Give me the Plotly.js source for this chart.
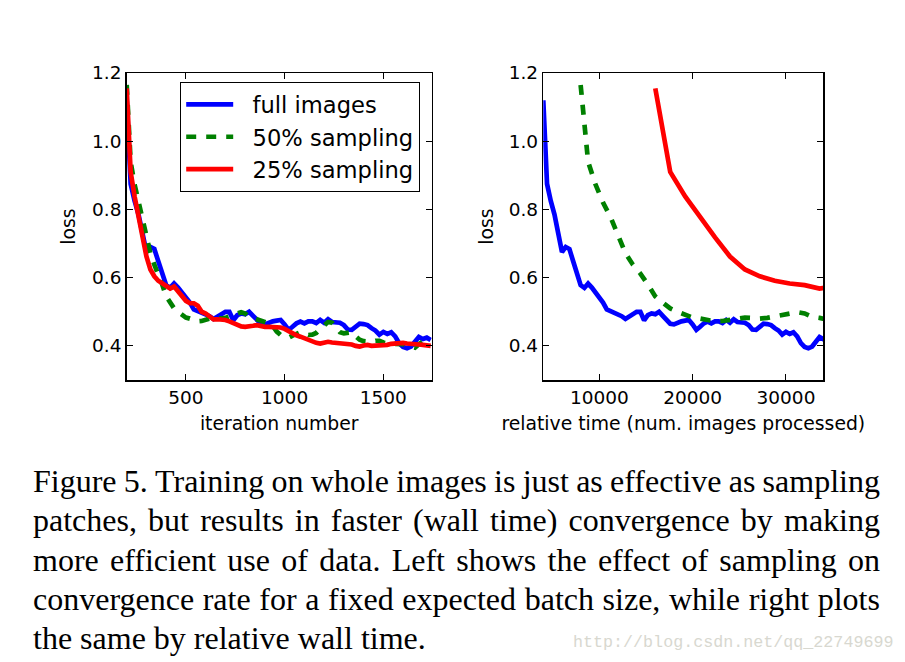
<!DOCTYPE html>
<html>
<head>
<meta charset="utf-8">
<script src="https://cdn.plot.ly/plotly-3.0.1.min.js"></script>
<style>
  html, body { margin: 0; padding: 0; background: #fff; }
  #wrap { position: relative; width: 905px; height: 662px; overflow: hidden; background: #fff; }
  #chart { position: absolute; left: 0; top: 0; width: 905px; height: 662px; }
  #caption { position: absolute; left: 33px; top: 462px; width: 847px;
             font-family: "Liberation Serif", "Times New Roman", serif; font-size: 32px; color: #000; }
  #caption .ln { display: flex; justify-content: space-between; height: 39.3px; line-height: 39.3px; white-space: nowrap; }
  #caption .ln.last { display: block; }
  #watermark { position: absolute; left: 573px; top: 633px; font-family: "Liberation Mono", "DejaVu Sans Mono", monospace;
               font-size: 16.7px; color: #d8d8d0; white-space: nowrap; }
</style>
</head>
<body>
<div id="wrap">
  <div id="chart"></div>
  <div id="caption"></div>
  <div id="watermark"></div>
</div>
<script>
// ---------------- data ----------------
const iterations = [200,220,240,260,280,300,320,340,360,380,
  400,420,440,460,480,500,520,540,560,580,
  600,620,640,660,680,700,720,740,760,780,
  800,820,840,860,880,900,920,940,960,980,
  1000,1020,1040,1060,1080,1100,1120,1140,1160,1180,
  1200,1220,1240,1260,1280,1300,1320,1340,1360,1380,
  1400,1420,1440,1460,1480,1500,1520,1540,1560,1580,
  1600,1620,1640,1660,1680,1700,1720,1740];

const lossFullImages = [1.12,0.875,0.825,0.785,0.73,0.675,0.69,0.684,0.648,0.612,
  0.578,0.570,0.583,0.571,0.557,0.546,0.527,0.507,0.502,0.496,
  0.493,0.487,0.479,0.485,0.492,0.500,0.500,0.475,0.490,0.495,
  0.493,0.500,0.488,0.477,0.465,0.463,0.468,0.472,0.474,0.476,
  0.463,0.447,0.456,0.466,0.471,0.466,0.472,0.472,0.467,0.476,
  0.468,0.478,0.470,0.468,0.468,0.461,0.448,0.447,0.458,0.465,
  0.464,0.461,0.452,0.445,0.433,0.441,0.435,0.440,0.428,0.408,
  0.397,0.393,0.398,0.415,0.426,0.420,0.424,0.417];

const loss50Sampling = [1.165,0.94,0.873,0.82,0.778,0.722,0.672,0.638,0.612,0.580,
  0.545,0.527,0.510,0.500,0.490,0.483,0.480,0.476,0.472,0.473,
  0.476,0.479,0.483,0.482,0.480,0.482,0.486,0.488,0.493,0.499,
  0.495,0.485,0.482,0.478,0.472,0.468,0.466,0.458,0.442,0.432,
  0.427,0.424,0.430,0.437,0.440,0.437,0.432,0.433,0.438,0.450,
  0.462,0.470,0.468,0.452,0.440,0.437,0.440,0.440,0.428,0.418,
  0.414,0.412,0.412,0.415,0.415,0.410,0.406,0.404,0.406,0.407,
  0.405,0.400,0.397,0.395,0.405,0.413,0.420,0.413];

const loss25Sampling = [1.155,0.91,0.838,0.776,0.718,0.662,0.624,0.604,0.591,0.583,
  0.578,0.568,0.574,0.560,0.544,0.532,0.525,0.525,0.518,0.500,
  0.495,0.488,0.478,0.478,0.478,0.476,0.472,0.467,0.462,0.457,
  0.456,0.456,0.459,0.461,0.458,0.456,0.456,0.456,0.455,0.454,
  0.450,0.443,0.437,0.431,0.427,0.422,0.417,0.412,0.409,0.407,
  0.410,0.412,0.410,0.409,0.408,0.408,0.407,0.404,0.400,0.398,
  0.401,0.403,0.400,0.400,0.400,0.401,0.403,0.406,0.408,0.409,
  0.409,0.407,0.405,0.405,0.404,0.403,0.402,0.400];

// images processed per iteration (relative time on the right panel)
const imagesPerIterFull = 20;
const imagesPerIter50 = 40;
const imagesPerIter25 = 80;

const seriesNames = ['full images', '50% sampling', '25% sampling'];

const yTickVals = [0.4, 0.6, 0.8, 1.0, 1.2];
const yTickLabels = ['0.4', '0.6', '0.8', '1.0', '1.2'];
const xTickValsLeft = [500, 1000, 1500];
const xTickLabelsLeft = ['500', '1000', '1500'];
const xTickValsRight = [10000, 20000, 30000];
const xTickLabelsRight = ['10000', '20000', '30000'];

const xTitleLeft = 'iteration number';
const xTitleRight = 'relative time (num. images processed)';
const yTitle = 'loss';

const captionLines = [
  'Figure 5.  Training on whole images is just as effective as sampling',
  'patches, but results in faster (wall time) convergence by making',
  'more efficient use of data.  Left shows the effect of sampling on',
  'convergence rate for a fixed expected batch size, while right plots',
  'the same by relative wall time.'
];
const watermarkText = 'http://blog.csdn.net/qq_22749699';

// ---------------- traces ----------------
const BLUE = '#0000ff', GREEN = '#008000', RED = '#ff0000';
const LW = 4.7;
const DASH = '10px,10px';
const LEGEND_PAD = '\u00a0\u00a0'; // gap between legend sample and label

const relTime = (its, k) => its.map(v => v * k);

const traces = [
  {x: iterations, y: lossFullImages, name: LEGEND_PAD + seriesNames[0], type: 'scatter', mode: 'lines',
   line: {color: BLUE, width: LW}, xaxis: 'x', yaxis: 'y', legendgroup: 'a'},
  {x: iterations, y: loss50Sampling, name: LEGEND_PAD + seriesNames[1], type: 'scatter', mode: 'lines',
   line: {color: GREEN, width: LW, dash: DASH}, xaxis: 'x', yaxis: 'y', legendgroup: 'b'},
  {x: iterations, y: loss25Sampling, name: LEGEND_PAD + seriesNames[2], type: 'scatter', mode: 'lines',
   line: {color: RED, width: LW}, xaxis: 'x', yaxis: 'y', legendgroup: 'c'},
  {x: relTime(iterations, imagesPerIterFull), y: lossFullImages, name: seriesNames[0], type: 'scatter', mode: 'lines',
   line: {color: BLUE, width: LW}, xaxis: 'x2', yaxis: 'y2', showlegend: false},
  {x: relTime(iterations, imagesPerIter50), y: loss50Sampling, name: seriesNames[1], type: 'scatter', mode: 'lines',
   line: {color: GREEN, width: LW, dash: DASH}, xaxis: 'x2', yaxis: 'y2', showlegend: false},
  {x: relTime(iterations, imagesPerIter25), y: loss25Sampling, name: seriesNames[2], type: 'scatter', mode: 'lines',
   line: {color: RED, width: LW}, xaxis: 'x2', yaxis: 'y2', showlegend: false}
];

// ---------------- layout ----------------
const W = 905, H = 662;
const tickFont = {family: 'DejaVu Sans', size: 18.5, color: '#000'};
const titleFont = {family: 'DejaVu Sans', size: 18.8, color: '#000'};
function axisBase() {
  return {
    showline: true, linecolor: '#000', linewidth: 1.5, mirror: 'ticks',
    ticks: 'inside', ticklen: 6, tickwidth: 1, tickcolor: '#000',
    showgrid: false, zeroline: false, automargin: false,
    tickfont: tickFont, tickmode: 'array', fixedrange: true
  };
}
const yDomain = [(H - 380) / H, (H - 73) / H];

const layout = {
  width: W, height: H,
  margin: {l: 0, r: 0, t: 0, b: 0, pad: 0},
  paper_bgcolor: '#fff', plot_bgcolor: '#fff',
  showlegend: true,
  legend: {
    x: 180 / W, y: 1 - 82 / H, xanchor: 'left', yanchor: 'top',
    bordercolor: '#000', borderwidth: 1.2, bgcolor: '#fff',
    font: {family: 'DejaVu Sans', size: 22.6, color: '#000'},
    itemwidth: 47,
    tracegroupgap: 5, traceorder: 'normal'
  },
  xaxis: Object.assign(axisBase(), {
    domain: [126.7 / W, 431.7 / W], range: [200, 1745], anchor: 'y',
    tickvals: xTickValsLeft, ticktext: xTickLabelsLeft,
    title: {text: xTitleLeft, font: titleFont, standoff: 10}
  }),
  yaxis: Object.assign(axisBase(), {
    domain: yDomain, range: [0.3, 1.2], anchor: 'x',
    tickvals: yTickVals, ticktext: yTickLabels,
    title: {text: yTitle, font: titleFont, standoff: 11}
  }),
  xaxis2: Object.assign(axisBase(), {
    domain: [543.3 / W, 823.3 / W], range: [4000, 34000], anchor: 'y2',
    tickvals: xTickValsRight, ticktext: xTickLabelsRight,
    title: {text: xTitleRight, font: titleFont, standoff: 10}
  }),
  yaxis2: Object.assign(axisBase(), {
    domain: yDomain, range: [0.3, 1.2], anchor: 'x2',
    tickvals: yTickVals, ticktext: yTickLabels,
    title: {text: yTitle, font: titleFont, standoff: 10}
  })
};

Plotly.newPlot('chart', traces, layout, {displayModeBar: false, staticPlot: true});

// ---------------- caption (justified lines) ----------------
const cap = document.getElementById('caption');
captionLines.forEach((line, i) => {
  const div = document.createElement('div');
  if (i === captionLines.length - 1) {
    div.className = 'ln last';
    div.textContent = line;
  } else {
    div.className = 'ln';
    line.split(/\s+/).forEach(w => {
      const s = document.createElement('span');
      s.textContent = w;
      div.appendChild(s);
    });
  }
  cap.appendChild(div);
});
document.getElementById('watermark').textContent = watermarkText;
</script>
</body>
</html>
